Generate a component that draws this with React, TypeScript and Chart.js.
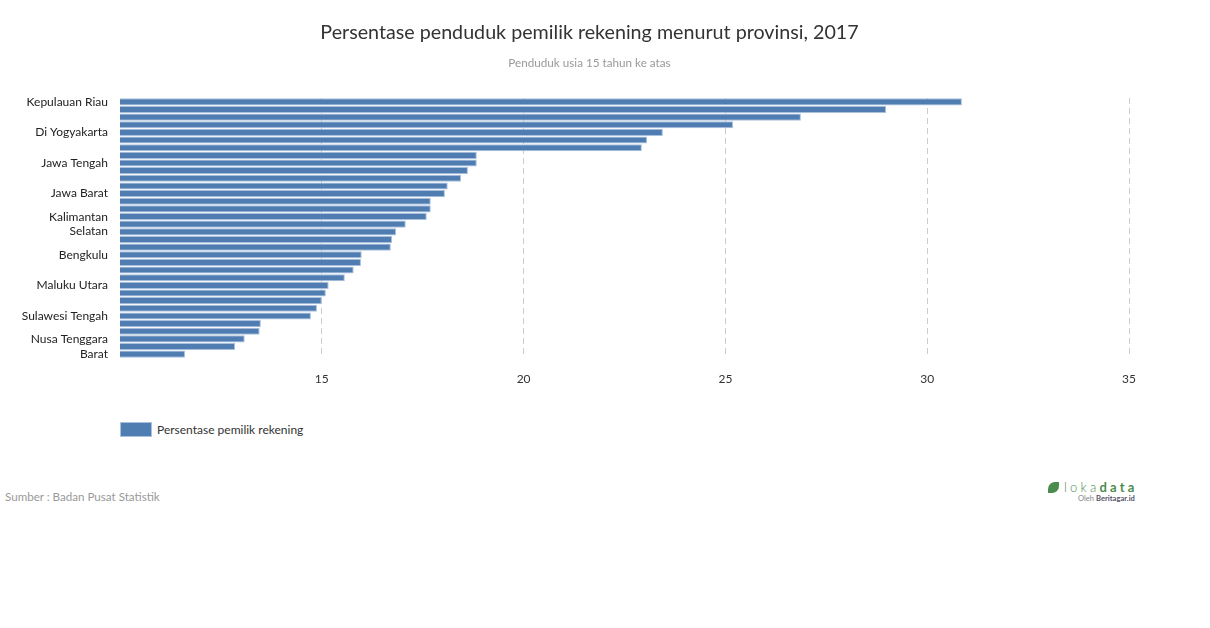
import React, { useEffect, useRef } from "react";
import { Chart, registerables } from "chart.js";

Chart.register(...registerables);

const provinces = [
  "Kepulauan Riau", "DKI Jakarta", "Bali", "Kalimantan Timur",
  "Di Yogyakarta", "Kalimantan Utara", "Bangka Belitung", "Sumatera Barat",
  "Jawa Tengah", "Jawa Timur", "Riau", "Sulawesi Utara",
  "Jawa Barat", "Banten", "Kalimantan Tengah", "Jambi",
  "Kalimantan Selatan", "Sumatera Utara", "Sulawesi Selatan", "Papua Barat",
  "Bengkulu", "Gorontalo", "Sumatera Selatan", "Aceh",
  "Maluku Utara", "Kalimantan Barat", "Sulawesi Barat", "Sulawesi Tenggara",
  "Sulawesi Tengah", "Maluku", "Lampung", "Nusa Tenggara Timur",
  "Nusa Tenggara Barat", "Papua",
];

const values = [
  30.86, 28.98, 26.87, 25.19,
  23.45, 23.06, 22.93, 18.84,
  18.84, 18.62, 18.45, 18.12,
  18.05, 17.7, 17.7, 17.6,
  17.08, 16.84, 16.74, 16.71,
  15.99, 15.97, 15.79, 15.57,
  15.17, 15.1, 15.0, 14.88,
  14.73, 13.49, 13.46, 13.09,
  12.85, 11.61,
];

const xTicks = [15, 20, 25, 30, 35];
const seriesName = "Persentase pemilik rekening";

const wrapLabel = (s: string): string | string[] => {
  if (s.length <= 16) return s;
  const i = s.lastIndexOf(" ");
  return [s.slice(0, i), s.slice(i + 1)];
};

export default function App() {
  const ref = useRef<HTMLCanvasElement>(null);

  useEffect(() => {
    Chart.defaults.font.family = "Lato";
    const chart = new Chart(ref.current as HTMLCanvasElement, {
      type: "bar",
      data: {
        labels: provinces,
        datasets: [
          {
            label: seriesName,
            data: values,
            backgroundColor: "#4f7cb1",
            borderColor: "#a9c1de",
            borderWidth: 1,
            barPercentage: 0.93,
            categoryPercentage: 1,
          },
        ],
      },
      options: {
        indexAxis: "y",
        responsive: false,
        animation: false,
        layout: { padding: { left: 0, top: 98, right: 81, bottom: 12 } },
        plugins: { legend: { display: false }, tooltip: { enabled: false } },
        scales: {
          x: {
            min: 10,
            max: 35,
            afterBuildTicks: (s: any) => {
              s.ticks = xTicks.map((v) => ({ value: v }));
            },
            afterFit: (s: any) => {
              s.height = 30;
            },
            ticks: {
              padding: 14,
              color: "#333",
              font: { size: 12 },
              callback: (v: any) => String(v),
            },
            grid: { color: "#cccccc", lineWidth: 1, drawTicks: false },
            border: { display: false, dash: [6, 4] },
          },
          y: {
            afterFit: (s: any) => {
              s.width = 120;
            },
            ticks: {
              autoSkip: false,
              padding: 12,
              color: "#222",
              font: { size: 12 },
              callback: (_v: any, i: number) =>
                i % 4 === 0 ? wrapLabel(provinces[i]) : "",
            },
            grid: { display: false, drawTicks: false },
            border: { display: false },
          },
        },
      },
    } as any);
    return () => chart.destroy();
  }, []);

  const abs = (o: React.CSSProperties): React.CSSProperties => ({
    position: "absolute",
    fontFamily: "Lato",
    whiteSpace: "nowrap",
    ...o,
  });

  return (
    <div>
      <canvas
        ref={ref}
        width={1210}
        height={400}
        style={{ position: "absolute", left: 0, top: 0, width: 1210, height: 400 }}
      />
      <div
        style={abs({
          left: 0,
          top: 19,
          width: 1179,
          textAlign: "center",
          fontSize: 19.7,
          color: "#333",
          lineHeight: "26px",
        })}
      >
        Persentase penduduk pemilik rekening menurut provinsi, 2017
      </div>
      <div
        style={abs({
          left: 0,
          top: 54,
          width: 1179,
          textAlign: "center",
          fontSize: 11.7,
          color: "#999",
          lineHeight: "16px",
        })}
      >
        Penduduk usia 15 tahun ke atas
      </div>
      <div
        style={{
          position: "absolute",
          left: 120,
          top: 422,
          width: 32,
          height: 15,
          boxSizing: "border-box",
          background: "#4f7cb1",
          border: "1px solid #a9c1de",
        }}
      />
      <div style={abs({ left: 157, top: 422, fontSize: 12, color: "#333", lineHeight: "16px" })}>
        {seriesName}
      </div>
      <div style={abs({ left: 5, top: 489, fontSize: 11.6, color: "#999", lineHeight: "16px" })}>
        Sumber : Badan Pusat Statistik
      </div>
      <div
        style={{
          position: "absolute",
          left: 1048,
          top: 482,
          width: 11,
          height: 11,
          background: "#4a8c4e",
          borderRadius: "7px 0 7px 0",
        }}
      />
      <div
        style={abs({
          left: 1064,
          top: 479,
          fontSize: 13,
          color: "#4a8c4e",
          letterSpacing: "3.2px",
          lineHeight: "16px",
        })}
      >
        <span style={{ fontWeight: 300 }}>loka</span>
        <span style={{ fontWeight: 700 }}>data</span>
      </div>
      <div style={abs({ left: 1078, top: 494, fontSize: 7.6, color: "#888", lineHeight: "9px" })}>
        Oleh <span style={{ color: "#556", fontWeight: 700 }}>Beritagar.id</span>
      </div>
    </div>
  );
}
